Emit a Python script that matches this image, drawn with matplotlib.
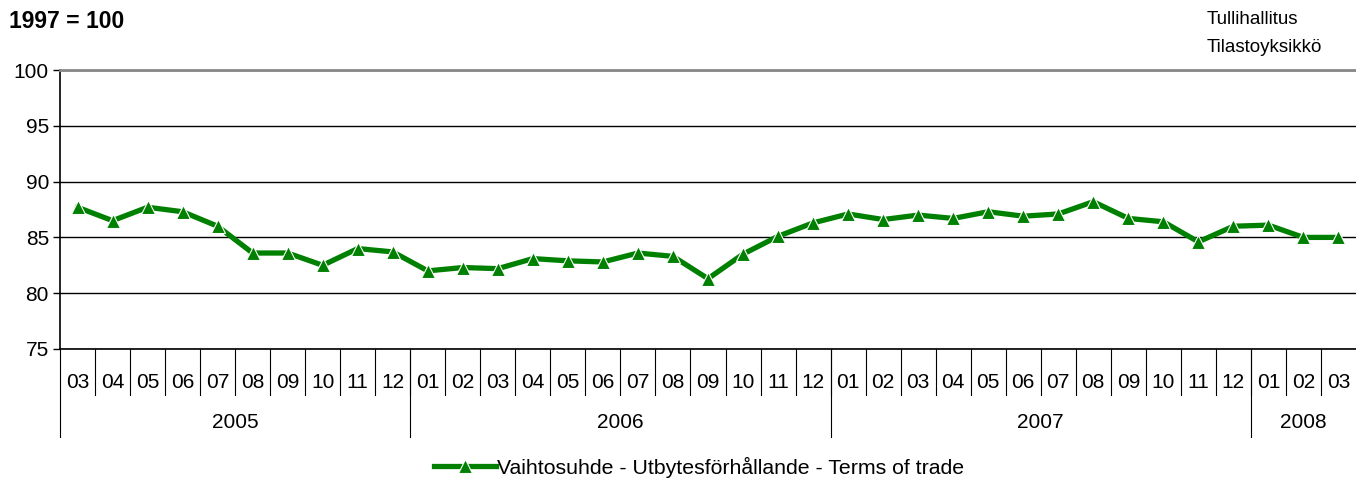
import matplotlib

matplotlib.use("Agg")
import matplotlib.pyplot as plt
import matplotlib.transforms as mtransforms

plt.rcParams["font.family"] = ["Liberation Sans", "DejaVu Sans"]

months = ["03", "04", "05", "06", "07", "08", "09", "10", "11", "12",
          "01", "02", "03", "04", "05", "06", "07", "08", "09", "10", "11", "12",
          "01", "02", "03", "04", "05", "06", "07", "08", "09", "10", "11", "12",
          "01", "02", "03"]
years = ["2005", "2006", "2007", "2008"]
year_counts = [10, 12, 12, 3]
terms_of_trade = [87.7, 86.5, 87.7, 87.3, 86.0, 83.6, 83.6, 82.5, 84.0, 83.7,
                  82.0, 82.3, 82.2, 83.1, 82.9, 82.8, 83.6, 83.3, 81.3, 83.5, 85.1, 86.3,
                  87.1, 86.6, 87.0, 86.7, 87.3, 86.9, 87.1, 88.2, 86.7, 86.4, 84.6, 86.0,
                  86.1, 85.0, 85.0]

fig = plt.figure(figsize=(13.56, 4.79), dpi=100)
ax = fig.add_axes([60 / 1356, 1 - 349 / 479, 1 - 60 / 1356, 279 / 479])

x = list(range(len(months)))
ax.plot(x, terms_of_trade, color="#008000", linewidth=3.8, marker="^",
        markersize=10, markerfacecolor="#008000", markeredgecolor="white",
        markeredgewidth=0.8, label="Vaihtosuhde - Utbytesförhållande - Terms of trade",
        zorder=3)

ax.set_xlim(-0.5, len(months) - 0.5)
ax.set_ylim(75, 100)
ax.set_yticks([75, 80, 85, 90, 95, 100])
ax.tick_params(axis="y", labelsize=15, length=5, width=1, color="black", pad=3)
ax.set_xticks([])
ax.grid(axis="y", color="black", linewidth=1)
ax.set_axisbelow(True)

ax.spines["right"].set_visible(False)
ax.spines["top"].set_color("#888888")
ax.spines["top"].set_linewidth(2)
ax.spines["left"].set_linewidth(1.2)
ax.spines["bottom"].set_linewidth(1.2)

trans = mtransforms.blended_transform_factory(ax.transData, ax.transAxes)
month_bottom = -46 / 279
year_bottom = -88 / 279

# month labels and separators
for i, m in enumerate(months):
    ax.text(i, -33 / 279, m, transform=trans, ha="center", va="center", fontsize=15)
    if i > 0:
        ax.plot([i - 0.5, i - 0.5], [0, month_bottom], transform=trans,
                color="black", linewidth=0.8, clip_on=False)

# year labels and separators
start = 0
for year, n in zip(years, year_counts):
    ax.plot([start - 0.5, start - 0.5], [0, year_bottom], transform=trans,
            color="black", linewidth=0.8, clip_on=False)
    ax.text(start + (n - 1) / 2, -73 / 279, year, transform=trans,
            ha="center", va="center", fontsize=15)
    start += n

fig.text(9 / 1356, 1 - 22 / 479, "1997 = 100", fontsize=16.5, fontweight="bold",
         ha="left", va="center")
fig.text(1207 / 1356, 1 - 20 / 479, "Tullihallitus", fontsize=13.5,
         ha="left", va="center")
fig.text(1207 / 1356, 1 - 47 / 479, "Tilastoyksikkö", fontsize=13.5,
         ha="left", va="center")

fig.legend(loc="center", bbox_to_anchor=(699 / 1356, 1 - 467 / 479), frameon=False,
           fontsize=15.3, handlelength=2.9, handletextpad=0.05, numpoints=1,
           borderpad=0, borderaxespad=0)

fig.savefig("out.png", dpi=100)
